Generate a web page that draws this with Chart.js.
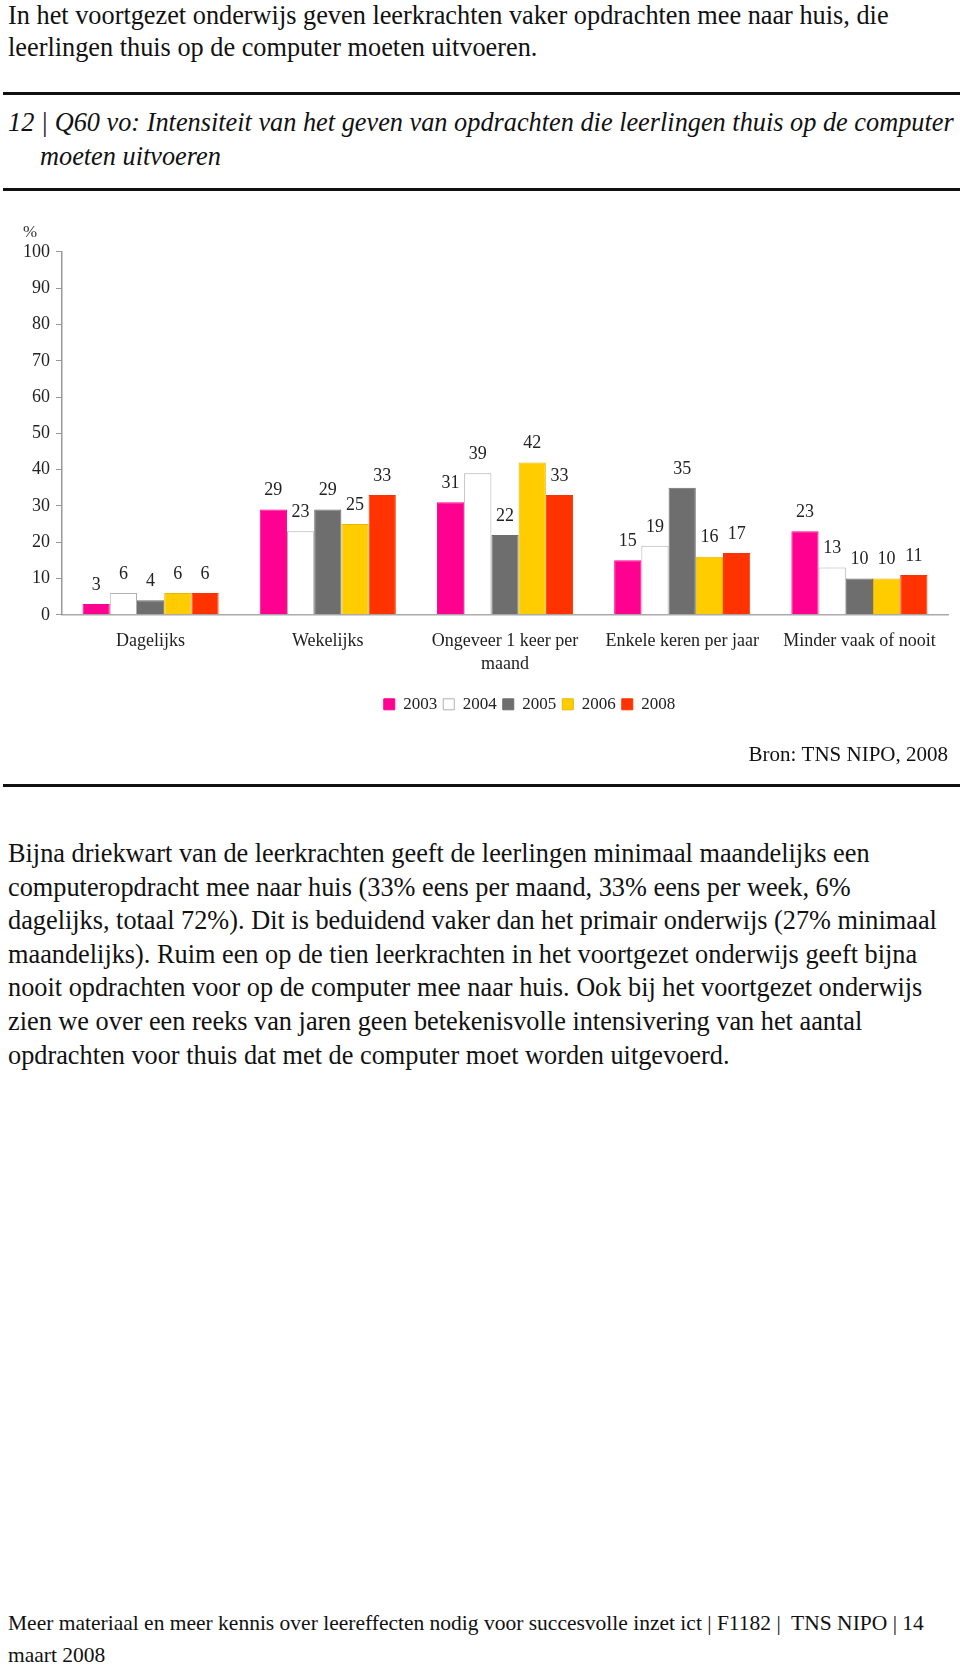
<!DOCTYPE html>
<html>
<head>
<meta charset="utf-8">
<script src="https://cdn.jsdelivr.net/npm/chart.js@4"></script>
<style>
html,body{margin:0;padding:0;background:#fff;}
body{width:960px;height:1667px;position:relative;overflow:hidden;font-family:"Liberation Serif","DejaVu Serif",serif;color:#111;}
.txt{position:absolute;left:8px;white-space:nowrap;}
.rule{position:absolute;left:3px;right:0;height:3px;background:#111;}
#intro{top:0;font-size:26.3px;line-height:32px;}
#title{top:106px;font-size:26.3px;line-height:34px;font-style:italic;}
#para{top:837px;font-size:26.3px;line-height:33.6px;}
#foot{top:1607px;font-size:21.5px;line-height:32px;}
#wrap{position:absolute;left:0;top:200px;width:960px;height:580px;}
</style>
</head>
<body>
<div class="txt" id="intro">In het voortgezet onderwijs geven leerkrachten vaker opdrachten mee naar huis, die<br>leerlingen thuis op de computer moeten uitvoeren.</div>
<div class="rule" style="top:92px"></div>
<div class="txt" id="title">12 | Q60 vo: Intensiteit van het geven van opdrachten die leerlingen thuis op de computer<br><span style="padding-left:32px">moeten uitvoeren</span></div>
<div class="rule" style="top:188px"></div>
<div id="wrap"><canvas id="chart"></canvas></div>
<div class="rule" style="top:784px"></div>
<div class="txt" id="para">Bijna driekwart van de leerkrachten geeft de leerlingen minimaal maandelijks een<br>computeropdracht mee naar huis (33% eens per maand, 33% eens per week, 6%<br>dagelijks, totaal 72%). Dit is beduidend vaker dan het primair onderwijs (27% minimaal<br>maandelijks). Ruim een op de tien leerkrachten in het voortgezet onderwijs geeft bijna<br>nooit opdrachten voor op de computer mee naar huis. Ook bij het voortgezet onderwijs<br>zien we over een reeks van jaren geen betekenisvolle intensivering van het aantal<br>opdrachten voor thuis dat met de computer moet worden uitgevoerd.</div>
<div class="txt" id="foot">Meer materiaal en meer kennis over leereffecten nodig voor succesvolle inzet ict | F1182 |&nbsp; TNS NIPO | 14<br>maart 2008</div>

<script>
/* data */
const categorieen = ["Dagelijks", "Wekelijks", ["Ongeveer 1 keer per", "maand"], "Enkele keren per jaar", "Minder vaak of nooit"];
const jaren = ["2003", "2004", "2005", "2006", "2008"];
const v2003 = [3, 29, 31, 15, 23];
const v2004 = [6, 23, 39, 19, 13];
const v2005 = [4, 29, 22, 35, 10];
const v2006 = [6, 25, 42, 16, 10];
const v2008 = [6, 33, 33, 17, 11];
const yTicks = [0, 10, 20, 30, 40, 50, 60, 70, 80, 90, 100];

const kleuren = ["#ff0090", "#ffffff", "#6e6e6e", "#ffcc00", "#ff3300"];
const randen = ["#ff0090", "#b0b0b0", "#6e6e6e", "#e6b800", "#ff3300"];
const series = [v2003, v2004, v2005, v2006, v2008];

const serif = "'Liberation Serif', 'DejaVu Serif', serif";

/* waarden boven de staven */
const labelPlugin = {
  id: "waardes",
  afterDatasetsDraw(chart){
    const ctx = chart.ctx;
    ctx.save();
    ctx.font = "18px " + serif;
    ctx.fillStyle = "#222";
    ctx.textAlign = "center";
    ctx.textBaseline = "middle";
    chart.data.datasets.forEach((ds, i)=>{
      chart.getDatasetMeta(i).data.forEach((bar, j)=>{
        ctx.fillText(ds.data[j], bar.x, bar.y - 19);
      });
    });
    ctx.restore();
  }
};

/* legenda iets naar rechts */
const legendShift = {
  id: "legendShift",
  afterUpdate(chart){
    chart.legend.left += 44;
    chart.legend.right += 44;
  }
};

new Chart(document.getElementById("chart"), {
  type: "bar",
  data: {
    labels: categorieen,
    datasets: jaren.map((j, i)=>({
      label: j,
      data: series[i],
      backgroundColor: kleuren[i],
      borderColor: randen[i],
      borderWidth: 1,
      categoryPercentage: 0.768,
      barPercentage: 1.0
    }))
  },
  options: {
    responsive: true,
    maintainAspectRatio: false,
    animation: false,
    devicePixelRatio: 1,
    layout: { padding: { left: 23, right: 12, top: 0, bottom: 0 } },
    plugins: {
      tooltip: { enabled: false },
      title: {
        display: true,
        text: "%",
        align: "start",
        color: "#333",
        font: { family: serif, size: 17, weight: "normal" },
        padding: { top: 22, bottom: 9.5 }
      },
      legend: {
        position: "bottom",
        labels: {
          color: "#222",
          font: { family: serif, size: 17 },
          boxWidth: 11,
          boxHeight: 11,
          padding: 6
        }
      },
      subtitle: {
        display: true,
        position: "bottom",
        align: "end",
        text: "Bron: TNS NIPO, 2008",
        color: "#111",
        font: { family: serif, size: 21, weight: "normal" },
        padding: { top: 20, bottom: 12 }
      }
    },
    scales: {
      x: {
        grid: { display: false, drawTicks: false },
        border: { color: "#aaa", width: 1.5 },
        ticks: {
          color: "#222",
          font: { family: serif, size: 18, lineHeight: 1.28 },
          padding: 15,
          maxRotation: 0,
          autoSkip: false
        },
        afterFit(scale){ scale.height = 75; }
      },
      y: {
        min: 0,
        max: 100,
        afterBuildTicks(scale){ scale.ticks = yTicks.map(v=>({value: v})); },
        grid: { drawOnChartArea: false, drawTicks: true, tickLength: 6, color: "#999" },
        border: { color: "#999", width: 1.5 },
        ticks: {
          color: "#222",
          font: { family: serif, size: 18 },
          padding: 6
        },
        afterFit(scale){ scale.width = 62 - 23; }
      }
    }
  },
  plugins: [labelPlugin, legendShift]
});
</script>
</body>
</html>
